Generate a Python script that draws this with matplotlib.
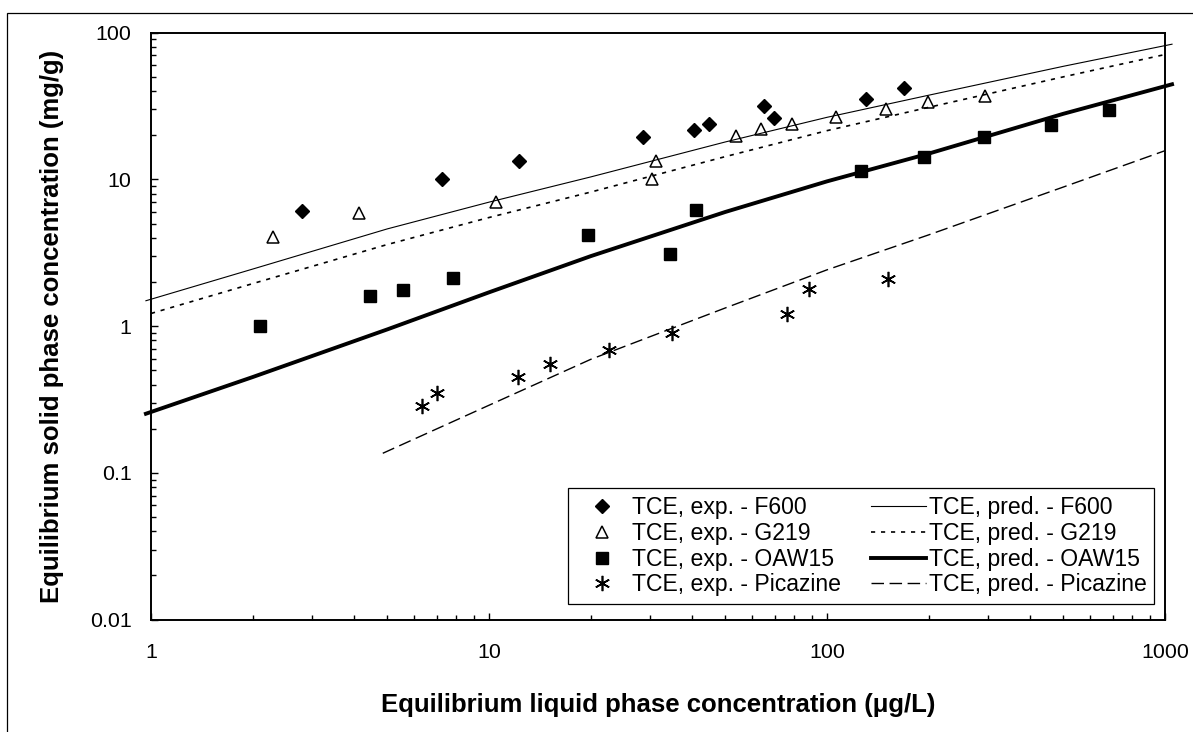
import numpy as np
import matplotlib
matplotlib.use("Agg")
import matplotlib.pyplot as plt
from matplotlib.patches import Rectangle

plt.rcParams['font.family'] = ['Liberation Sans', 'DejaVu Sans']

# experimental points (liquid conc ug/L, solid conc mg/g)
f600_x = [2.79, 7.24, 12.3, 28.6, 40.4, 44.7, 65.1, 69.8, 130, 169]
f600_y = [6.1, 10.05, 13.3, 19.5, 21.6, 24.0, 31.7, 26.4, 35.5, 41.8]

g219_x = [2.30, 4.13, 10.47, 30.3, 31.2, 53.8, 63.8, 78.9, 106, 149, 199, 293]
g219_y = [4.03, 5.86, 6.97, 10.05, 13.3, 19.8, 22.0, 24.0, 26.7, 30.1, 33.7, 37.1]

oaw_x = [2.10, 4.45, 5.58, 7.81, 19.6, 34.3, 40.9, 126, 193, 291, 459, 684]
oaw_y = [1.00, 1.60, 1.77, 2.12, 4.18, 3.10, 6.18, 11.44, 14.3, 19.5, 23.5, 29.6]

pic_x = [6.33, 7.03, 12.2, 15.2, 22.6, 34.7, 76.3, 88.6, 152]
pic_y = [0.285, 0.352, 0.449, 0.548, 0.683, 0.90, 1.21, 1.79, 2.10]

# predicted curves
wide_x = [0.966, 2, 5, 10, 20, 50, 100, 200, 500, 1049]
f600_pred = [1.49, 2.45, 4.6, 7.0, 10.4, 18.0, 26.5, 37.5, 59, 83.5]
oaw_pred = [0.253, 0.45, 0.95, 1.7, 3.0, 6.0, 9.7, 15, 28, 44.5]
g219_pred_x = [1, 2, 5, 10, 20, 50, 100, 200, 500, 1000]
g219_pred = [1.22, 1.95, 3.6, 5.5, 8.2, 14.3, 21.5, 31, 50, 71]
pic_pred_x = [4.85, 10, 20, 50, 100, 200, 500, 1000]
pic_pred = [0.136, 0.289, 0.594, 1.33, 2.42, 4.19, 8.87, 15.7]

W, H = 1193, 732
fig = plt.figure(figsize=(W / 100, H / 100), dpi=100)
ax = fig.add_axes([151 / W, 1 - 619.6 / H, 1014 / W, 586.9 / H])

ax.plot(f600_x, f600_y, 'D', color='black', markersize=6.8, linestyle='none',
        label='TCE, exp. - F600')
ax.plot(g219_x, g219_y, '^', markerfacecolor='white', markeredgecolor='black',
        markeredgewidth=1.1, markersize=8.5, linestyle='none', label='TCE, exp. - G219')
ax.plot(oaw_x, oaw_y, 's', color='black', markersize=8.8, linestyle='none',
        label='TCE, exp. - OAW15')
ax.plot(pic_x, pic_y, marker=(6, 2, 0), color='black', markeredgewidth=1.2,
        markersize=11, linestyle='none', label='TCE, exp. - Picazine')

ax.plot(wide_x, f600_pred, '-', color='black', lw=0.8, clip_on=False,
        label='TCE, pred. - F600')
ax.plot(g219_pred_x, g219_pred, color='black', lw=1.2, dashes=(2.5, 3.5),
        label='TCE, pred. - G219')
ax.plot(wide_x, oaw_pred, '-', color='black', lw=2.8, clip_on=False,
        label='TCE, pred. - OAW15')
ax.plot(pic_pred_x, pic_pred, color='black', lw=1.0, dashes=(9, 4),
        label='TCE, pred. - Picazine')

ax.set_xscale('log')
ax.set_yscale('log')
ax.set_xlim(1, 1000)
ax.set_ylim(0.01, 100)
ax.set_xticks([1, 10, 100, 1000])
ax.set_xticklabels(['1', '10', '100', '1000'])
ax.set_yticks([0.01, 0.1, 1, 10, 100])
ax.set_yticklabels(['0.01', '0.1', '1', '10', '100'])

for s in ax.spines.values():
    s.set_linewidth(1.4)
ax.tick_params(which='both', direction='in', top=False, right=False,
               labelsize=15.4, width=1.0)
ax.tick_params(axis='y', which='major', length=5, pad=14)
ax.tick_params(axis='y', which='minor', length=3.5)
ax.tick_params(axis='x', which='major', length=5, pad=17)
ax.tick_params(axis='x', which='minor', length=3.5)
ax.xaxis.set_minor_formatter(matplotlib.ticker.NullFormatter())
ax.yaxis.set_minor_formatter(matplotlib.ticker.NullFormatter())

fig.text(658 / W, 1 - 705 / H, 'Equilibrium liquid phase concentration (\u03bcg/L)',
         ha='center', va='center', fontsize=18.5, fontweight='bold')
fig.text(52 / W, 1 - 326 / H, 'Equilibrium solid phase concentration (mg/g)',
         ha='center', va='center', rotation=90, fontsize=18.5, fontweight='bold')

leg = ax.legend(ncol=2, loc='lower right', bbox_to_anchor=(1154 / W, 1 - 604 / H),
                bbox_transform=fig.transFigure, fontsize=16.6, frameon=True,
                fancybox=False, framealpha=1, edgecolor='black', borderpad=0.33,
                handlelength=2.35, handletextpad=0.13, columnspacing=1.3,
                labelspacing=0.12, borderaxespad=0)
leg.get_frame().set_linewidth(0.9)

fig.add_artist(Rectangle((7 / W, -0.1), 1.2, 1.1 - 13 / H, transform=fig.transFigure,
                         fill=False, edgecolor='black', lw=0.9))

fig.savefig('out.png', dpi=100)
